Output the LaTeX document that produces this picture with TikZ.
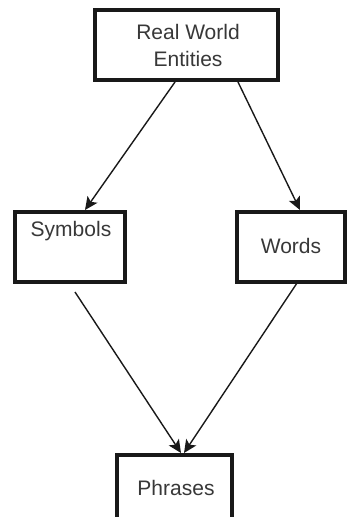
\documentclass[tikz,border=0pt]{standalone}
\usepackage{fontspec}
\setmainfont{Liberation Sans}
\usetikzlibrary{arrows.meta}
\begin{document}
\begin{tikzpicture}[x=1pt,y=-1pt,
  box/.style={draw=black!90, line width=3.2pt, fill=white},
  lbl/.style={font=\fontsize{21}{27}\selectfont, text=black!78, align=center},
  link/.style={draw=black!90, line width=1.4pt,
    -{Stealth[length=13pt,width=12pt,inset=3pt]}}]
  \useasboundingbox (0,0) rectangle (351,517);
  % boxes
  \draw[box] (95,10) rectangle (278,80);
  \draw[box] (15,212) rectangle (125,282);
  \draw[box] (237,212) rectangle (345,282);
  \draw[box] (117,455) rectangle (232,530);
  % labels
  \node[lbl] (real) at (188,45) {Real World\\Entities};
  \node[lbl] (sym) at (71,231) {Symbols};
  \node[lbl] (wrd) at (291,246) {Words};
  \node[lbl] (phr) at (176,488) {Phrases};
  % anchor points on the box edges
  \coordinate (realL) at (175,82);
  \coordinate (realR) at (238,82);
  \coordinate (symT) at (85,210);
  \coordinate (wrdT) at (300,210);
  \coordinate (symB) at (75,292);
  \coordinate (wrdB) at (297,283);
  \coordinate (phrT1) at (181,453);
  \coordinate (phrT2) at (184,453);
  % connectors
  \draw[link] (realL) -- (symT);
  \draw[link] (realR) -- (wrdT);
  \draw[link] (symB) -- (phrT1);
  \draw[link] (wrdB) -- (phrT2);
\end{tikzpicture}
\end{document}
